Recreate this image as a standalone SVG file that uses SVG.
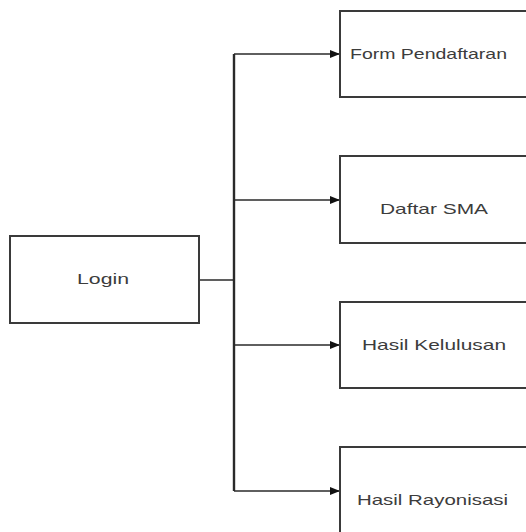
<svg xmlns="http://www.w3.org/2000/svg" width="526" height="532" viewBox="0 0 526 532">
<style>
.box{fill:#fff;stroke:#3a3a3a;stroke-width:2}
.lbl{font-family:"Liberation Sans",Arial,sans-serif;font-size:15px;fill:#3c3c3c}
.conn{fill:none;stroke:#2a2a2a;stroke-width:1.6}
</style>
<defs>
<marker id="arr" markerWidth="10" markerHeight="8" refX="10" refY="4" orient="auto" markerUnits="userSpaceOnUse">
<path d="M0,0 L10,4 L0,8 Z" fill="#111"/>
</marker>
</defs>
<rect width="526" height="532" fill="#fff"/>
<g id="connectors">
<path class="conn" d="M199,280 H234"/>
<path class="conn" style="stroke-width:2.4" d="M234,54 V491"/>
<path class="conn" marker-end="url(#arr)" d="M234,54 H340"/>
<path class="conn" marker-end="url(#arr)" d="M234,200 H340"/>
<path class="conn" marker-end="url(#arr)" d="M234,345 H340"/>
<path class="conn" marker-end="url(#arr)" d="M234,491 H340"/>
</g>
<g id="login">
<rect class="box" x="10" y="236" width="189" height="87"/>
<text class="lbl" x="77" y="284" textLength="52" lengthAdjust="spacingAndGlyphs">Login</text>
</g>
<g id="form-pendaftaran">
<rect class="box" x="340" y="11" width="200" height="86"/>
<text class="lbl" x="350" y="59" textLength="157" lengthAdjust="spacingAndGlyphs">Form Pendaftaran</text>
</g>
<g id="daftar-sma">
<rect class="box" x="340" y="156" width="200" height="87"/>
<text class="lbl" x="380" y="214" textLength="108" lengthAdjust="spacingAndGlyphs">Daftar SMA</text>
</g>
<g id="hasil-kelulusan">
<rect class="box" x="340" y="302" width="200" height="86"/>
<text class="lbl" x="362" y="350" textLength="144" lengthAdjust="spacingAndGlyphs">Hasil Kelulusan</text>
</g>
<g id="hasil-rayonisasi">
<rect class="box" x="340" y="447" width="200" height="100"/>
<text class="lbl" x="357" y="505" textLength="151" lengthAdjust="spacingAndGlyphs">Hasil Rayonisasi</text>
</g>
</svg>
